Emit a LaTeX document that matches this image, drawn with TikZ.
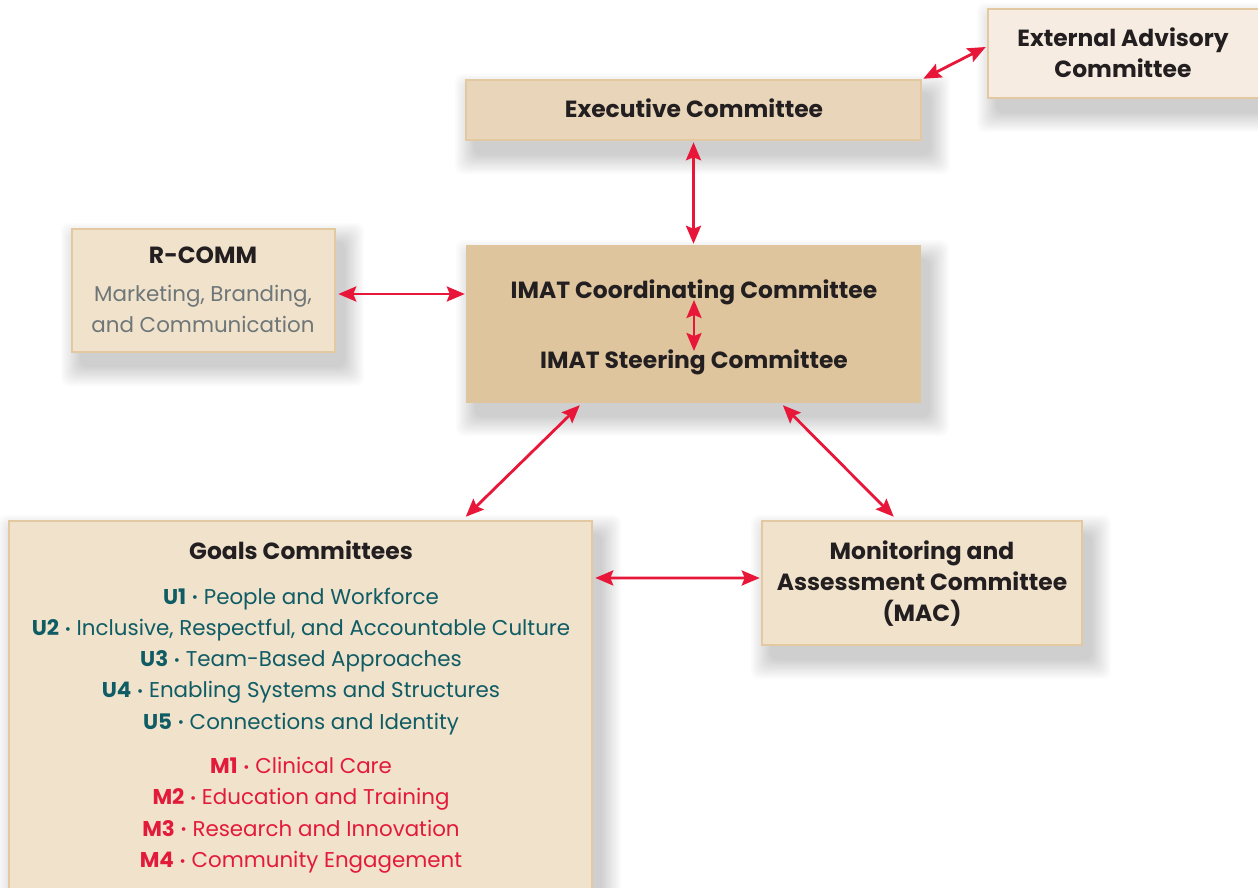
\documentclass[tikz,border=0pt]{standalone}
\usepackage{fontspec}
\setmainfont{Poppins}
\usetikzlibrary{arrows.meta,calc,backgrounds}
\definecolor{arrred}{HTML}{E8173A}
\definecolor{txtdark}{HTML}{231F20}
\definecolor{txtgray}{HTML}{6E7678}
\definecolor{teal}{HTML}{0F5C64}
\definecolor{mred}{HTML}{E31B3B}
\definecolor{fillexec}{HTML}{E9D6BA}
\definecolor{fillext}{HTML}{F7ECE2}
\definecolor{filllight}{HTML}{F1E2CC}
\definecolor{fillimat}{HTML}{DEC59E}
\definecolor{border}{HTML}{E2C9A2}
\newcommand\softshadow[1]{%
  \foreach \k in {0,...,11}{%
    \fill[black, opacity=0.017, rounded corners=8pt]
      ($(#1.north west)+(9-\k*1.7,14-\k*1.7)$) rectangle ($(#1.south east)+(9+\k*1.7,14+\k*1.7)$);}}
\newcommand\dotsep{ {\fontsize{15}{15}\selectfont\raisebox{1.2pt}{•}} }
\tikzset{
  box/.style={draw=border, line width=2.5pt, inner sep=0pt},
  ttl/.style={font=\fontsize{23.4}{28}\selectfont\bfseries, text=txtdark, inner sep=0pt, text height=16.5pt, text depth=0pt},
  sub/.style={font=\fontsize{21.4}{26}\selectfont, text=txtgray, inner sep=0pt, text height=15pt, text depth=0pt},
  uitem/.style={font=\fontsize{21.4}{26}\selectfont, text=teal, inner sep=0pt, text height=15pt, text depth=0pt},
  mitem/.style={font=\fontsize{21.4}{26}\selectfont, text=mred, inner sep=0pt, text height=15pt, text depth=0pt},
  arr/.style={line width=2.8pt, draw=arrred,
    {Stealth[length=18pt,width=15pt,inset=3pt]}-{Stealth[length=18pt,width=15pt,inset=3pt]}}
}
\begin{document}
\begin{tikzpicture}[x=1pt,y=-1pt]
\useasboundingbox (0,0) rectangle (1258,888);
% boxes
\node[box, fill=fillexec, minimum width=455pt, minimum height=60pt] (exec) at (693.5,110) {};
\node[box, fill=fillext, minimum width=274pt, minimum height=89pt] (ext) at (1125,53.5) {};
\node[box, fill=filllight, minimum width=263pt, minimum height=123pt] (rcomm) at (203.5,290.5) {};
\node[fill=fillimat, minimum width=455pt, minimum height=158pt, inner sep=0pt] (imat) at (693.5,324) {};
\node[box, fill=filllight, minimum width=583pt, minimum height=400pt] (goals) at (300.5,721) {};
\node[box, fill=filllight, minimum width=320pt, minimum height=124pt] (mac) at (922,583) {};
\begin{scope}[on background layer]
  \fill[white] (0,0) rectangle (1258,888);
  \softshadow{exec}
  \softshadow{ext}
  \softshadow{rcomm}
  \softshadow{imat}
  \softshadow{goals}
  \softshadow{mac}
\end{scope}
% texts
\node[ttl] (exect) at (694,109) {Executive Committee};
\node[ttl] (ext1) at (1123,38) {External Advisory};
\node[ttl] (ext2) at (1123,69) {Committee};
\node[ttl] (rc1) at (203,255) {R-COMM};
\node[sub] (rc2) at (203,294) {Marketing, Branding,};
\node[sub] (rc3) at (203,325) {and Communication};
\node[ttl] (coord) at (694,290.5) {IMAT Coordinating Committee};
\node[ttl] (steer) at (694,360.5) {IMAT Steering Committee};
\node[ttl] (mac1) at (922,551) {Monitoring and};
\node[ttl] (mac2) at (922,582) {Assessment Committee};
\node[ttl] (mac3) at (922,613) {(MAC)};
\node[ttl] (gt) at (301,551.5) {Goals Committees};
\node[uitem] (u1) at (301,596.5) {\textbf{U1}\dotsep People and Workforce};
\node[uitem] (u2) at (301,627.8) {\textbf{U2}\dotsep Inclusive, Respectful, and Accountable Culture};
\node[uitem] (u3) at (301,659) {\textbf{U3}\dotsep Team-Based Approaches};
\node[uitem] (u4) at (301,690.3) {\textbf{U4}\dotsep Enabling Systems and Structures};
\node[uitem] (u5) at (301,721.5) {\textbf{U5}\dotsep Connections and Identity};
\node[mitem] (m1) at (301,766) {\textbf{M1}\dotsep Clinical Care};
\node[mitem] (m2) at (301,797.3) {\textbf{M2}\dotsep Education and Training};
\node[mitem] (m3) at (301,828.6) {\textbf{M3}\dotsep Research and Innovation};
\node[mitem] (m4) at (301,859.9) {\textbf{M4}\dotsep Community Engagement};
% connector end points
\coordinate (e1) at ($(exec.north east)+(1,0)$);
\coordinate (x1) at ($(ext.west)+(-1,-6.5)$);
\coordinate (r1) at ($(rcomm.east)+(2,3.5)$);
\coordinate (i1) at ($(imat.west)+(-1,-30)$);
\coordinate (ig) at ($(imat.south west)+(114,2)$);
\coordinate (gi) at ($(goals.north west)+(458,-3)$);
\coordinate (im) at ($(imat.south west)+(317,2)$);
\coordinate (mi) at ($(mac.north west)+(133,-3)$);
\coordinate (gm) at ($(goals.north east)+(2,58.2)$);
\coordinate (mg) at ($(mac.west)+(-1,-5)$);
% connectors
\draw[arr] (e1) -- (x1);
\draw[arr, shorten <=1pt, shorten >=1pt] (exec.south) -- (imat.north);
\draw[arr] (r1) -- (i1);
\draw[arr, shorten <=1pt, shorten >=1pt] (coord.south) -- (steer.north);
\draw[arr] (ig) -- (gi);
\draw[arr] (im) -- (mi);
\draw[arr] (gm) -- (mg);
\end{tikzpicture}
\end{document}
